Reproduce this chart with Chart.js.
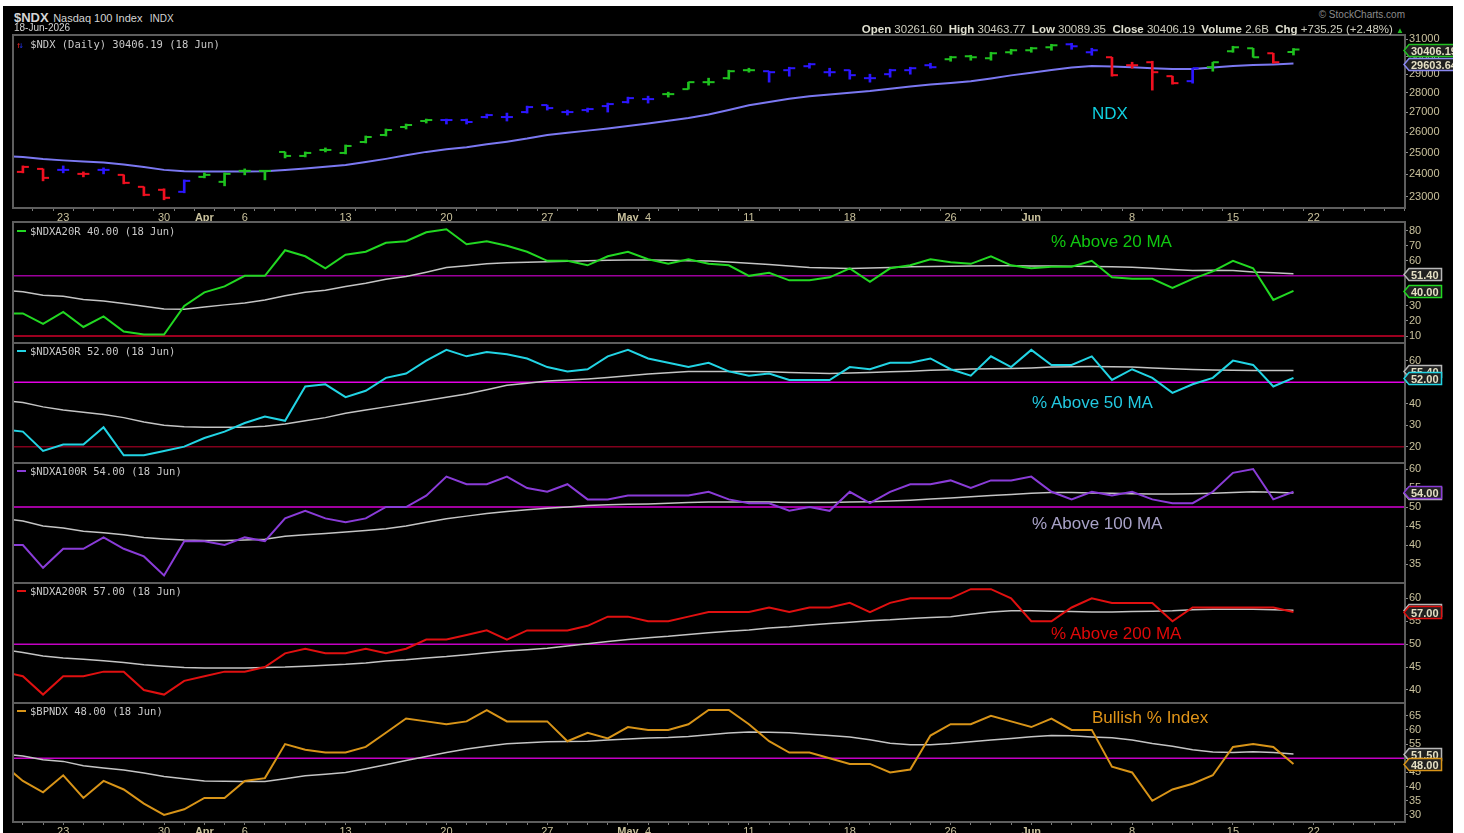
<!DOCTYPE html>
<html lang="en">
<head>
<meta charset="UTF-8">
<title>$NDX Nasdaq 100 Index</title>
<script src="https://cdn.jsdelivr.net/npm/chart.js"></script>
<style>
  html, body { margin: 0; padding: 0; background: #fff; }
  body { width: 1464px; height: 833px; overflow: hidden; position: relative; font-family: "Liberation Sans", Arial, sans-serif; }
  #stage { position: absolute; left: 3px; top: 6px; width: 1450px; height: 827px; background: #000; overflow: hidden; }
  #inner { position: absolute; left: -3px; top: -6px; width: 1464px; height: 833px; }
  #inner canvas { position: absolute; left: 0; }
  .txt { position: absolute; white-space: nowrap; line-height: 1; }
  .legend { font: 10.5px "DejaVu Sans Mono", monospace; color: #c8c8c8; }
  .legend i { display: inline-block; width: 9px; height: 2px; vertical-align: middle; margin: 0 4px 2px 0; }
  .note { font-size: 17px; }
  .hdr b { color: #e0e0d0; }
</style>
</head>
<body>
<div id="stage"><div id="inner">
  <canvas id="p1"></canvas>
  <canvas id="p2"></canvas>
  <canvas id="p3"></canvas>
  <canvas id="p4"></canvas>
  <canvas id="p5"></canvas>
  <canvas id="p6"></canvas>

  <!-- header -->
  <div class="txt" style="left:14px;top:9px;color:#d4d4d4"><b style="font-size:13px">$NDX</b> <span style="font-size:11px">Nasdaq 100 Index</span> <span style="font-size:10px">&nbsp;INDX</span></div>
  <div class="txt" style="left:14px;top:23px;color:#d4d4d4;font-size:10px">18-Jun-2026</div>
  <div class="txt" style="right:59px;top:10px;color:#8c8c8c;font-size:10px">&copy; StockCharts.com</div>
  <div class="txt hdr" style="right:60px;top:24px;color:#d0d0c0;font-size:11.5px"><b>Open</b> 30261.60 &nbsp;<b>High</b> 30463.77 &nbsp;<b>Low</b> 30089.35 &nbsp;<b>Close</b> 30406.19 &nbsp;<b>Volume</b> 2.6B &nbsp;<b>Chg</b> +735.25 (+2.48%) <span style="color:#22c022;font-size:8px">&#9650;</span></div>

  <!-- panel legends -->
  <div class="txt legend" style="left:16px;top:38px"><span style="color:#e02020;font-size:9px;letter-spacing:-3px">&#8593;</span><span style="color:#2030e0;font-size:9px">&#8595;</span> $NDX (Daily) 30406.19 (18 Jun)</div>
  <div class="txt legend" style="left:17px;top:225px"><i style="background:#22d822"></i>$NDXA20R 40.00 (18 Jun)</div>
  <div class="txt legend" style="left:17px;top:345px"><i style="background:#22d4e4"></i>$NDXA50R 52.00 (18 Jun)</div>
  <div class="txt legend" style="left:17px;top:465px"><i style="background:#8a3cd8"></i>$NDXA100R 54.00 (18 Jun)</div>
  <div class="txt legend" style="left:17px;top:585px"><i style="background:#e01010"></i>$NDXA200R 57.00 (18 Jun)</div>
  <div class="txt legend" style="left:17px;top:705px"><i style="background:#d89418"></i>$BPNDX 48.00 (18 Jun)</div>

  <!-- annotations -->
  <div class="txt note" style="left:1092px;top:105px;color:#10d0e0">NDX</div>
  <div class="txt note" style="left:1051px;top:233px;color:#10c810">% Above 20 MA</div>
  <div class="txt note" style="left:1032px;top:394px;color:#22c8e0">% Above 50 MA</div>
  <div class="txt note" style="left:1032px;top:515px;color:#a8a2c8">% Above 100 MA</div>
  <div class="txt note" style="left:1051px;top:625px;color:#e00808">% Above 200 MA</div>
  <div class="txt note" style="left:1092px;top:709px;color:#e09418">Bullish % Index</div>
</div></div>

<script>
// trading days shown (Mar 18 sits just left of the plot)
var days = ['Mar 18','Mar 19','Mar 20','Mar 23','Mar 24','Mar 25','Mar 26','Mar 27','Mar 30','Mar 31',
  'Apr 1','Apr 2','Apr 6','Apr 7','Apr 8','Apr 9','Apr 10','Apr 13','Apr 14','Apr 15','Apr 16','Apr 17',
  'Apr 20','Apr 21','Apr 22','Apr 23','Apr 24','Apr 27','Apr 28','Apr 29','Apr 30',
  'May 1','May 4','May 5','May 6','May 7','May 8','May 11','May 12','May 13','May 14','May 15',
  'May 18','May 19','May 20','May 21','May 22','May 26','May 27','May 28','May 29',
  'Jun 1','Jun 2','Jun 3','Jun 4','Jun 5','Jun 8','Jun 9','Jun 10','Jun 11','Jun 12',
  'Jun 15','Jun 16','Jun 17','Jun 18'];

// date axis labels (slot index -> text); 65 is Jun 22, after the Juneteenth holiday
var xTickIndex = [3, 8, 10, 12, 17, 22, 27, 31, 32, 37, 42, 47, 51, 56, 61, 65];
var xTickText  = ['23','30','Apr','6','13','20','27','May','4','11','18','26','Jun','8','15','22'];

// $NDX daily OHLC
var ndxOpen  = [null, 24108, 24245, 24200, 24017, 24200, 23972, 23434, 23302, 23214, 23881, 23657, 24154, 24154, 25037, 24849, 25132, 24990, 25515, 25855, 26249, 26549, 26599, 26599, 26750, 26750, 27004, 27364, 27004, 27106, 27312, 27519, 27676, 27939, 28204, 28580, 28797, 29236, 29180, 29236, 29457, 29125, 29236, 28797, 29015, 29236, 29513, 29850, 30019, 29906, 30248, 30362, 30535, 30708, 30248, 29963, 29513, 29681, 28906, 28634, 29402, 30305, 30477, 30190, 30261.60];
var ndxHigh  = [null, 24383, 24245, 24383, 24108, 24291, 23972, 23434, 23346, 23746, 24063, 24063, 24245, 24154, 25037, 25037, 25228, 25371, 25807, 26150, 26399, 26649, 26649, 26649, 26902, 26953, 27312, 27364, 27106, 27209, 27468, 27781, 27833, 28044, 28580, 28797, 29236, 29346, 29180, 29402, 29625, 29346, 29236, 29015, 29291, 29402, 29625, 30019, 30076, 30248, 30419, 30535, 30708, 30767, 30477, 29963, 29681, 29737, 28906, 29346, 29681, 30593, 30477, 30190, 30463.77];
var ndxLow   = [null, 24063, 23701, 24063, 23881, 24017, 23567, 23039, 22865, 23170, 23836, 23478, 23972, 23746, 24755, 24802, 25037, 24943, 25467, 25807, 26150, 26449, 26399, 26399, 26700, 26549, 26953, 27106, 26851, 27004, 27004, 27468, 27468, 27781, 28204, 28418, 28743, 29125, 28580, 28906, 29346, 28906, 28743, 28580, 28851, 29015, 29346, 29737, 29793, 29793, 30133, 30248, 30362, 30419, 30076, 28906, 29346, 28151, 28472, 28526, 29180, 30248, 29963, 29625, 30089.35];
var ndxClose = [null, 24337, 23836, 24200, 24017, 24200, 23612, 23082, 22952, 23701, 23972, 24017, 24154, 24154, 24849, 24990, 25132, 25323, 25758, 26101, 26349, 26599, 26599, 26499, 26851, 26750, 27261, 27209, 27004, 27158, 27416, 27728, 27676, 27939, 28580, 28580, 29180, 29236, 29125, 29346, 29569, 29125, 28961, 28797, 29236, 29346, 29402, 29963, 29963, 30190, 30362, 30477, 30650, 30593, 30362, 28961, 29513, 29125, 28526, 29346, 29681, 30535, 29963, 29681, 30406.19];
var ndxTrend = [null, 'down','down','flat','down','flat','down','down','down','flat','up','up','up','up','up','up','up','up','up','up','up','up','flat','flat','flat','flat','flat','flat','flat','flat','flat','flat','flat','up','up','up','up','up','flat','flat','flat','flat','flat','flat','flat','flat','flat','up','up','up','up','up','up','flat','flat','down','down','down','down','flat','up','up','up','down','up'];
var ndxMA = [24850, 24800, 24700, 24640, 24590, 24540, 24450, 24330, 24200, 24140, 24120, 24120, 24125, 24140, 24190, 24260, 24340, 24430, 24560, 24710, 24880, 25040, 25160, 25260, 25400, 25530, 25680, 25860, 25970, 26070, 26180, 26300, 26430, 26560, 26700, 26880, 27110, 27360, 27530, 27690, 27830, 27920, 28010, 28100, 28220, 28340, 28450, 28540, 28630, 28780, 28950, 29100, 29250, 29380, 29470, 29440, 29400, 29340, 29300, 29300, 29390, 29470, 29520, 29560, 29603.64];

// breadth indicators and their moving averages
var a20r   = [25, 25, 18, 26, 16, 23, 13, 11, 11, 30, 39, 43, 50, 50, 67, 63, 55, 64, 66, 72, 73, 79, 81, 71, 73, 70, 66, 60, 60, 57, 63, 66, 61, 58, 61, 58, 57, 50, 52, 47, 47, 49, 55, 46, 55, 57, 61, 59, 58, 63, 57, 55, 56, 56, 60, 49, 48, 48, 42, 48, 53, 60, 55, 34, 40];
var a20rMA = [40.5, 39.5, 37.1, 36.4, 34.2, 33.3, 31.6, 29.8, 28, 27.8, 29.3, 30.7, 32, 34, 36.7, 39.1, 40.4, 42.9, 45.1, 47.8, 49.6, 52.4, 55.5, 56.7, 58, 58.7, 59, 59.3, 59.7, 60, 60.4, 60.6, 60.5, 60.3, 60, 59.8, 59.2, 58.4, 57.5, 56.5, 55.6, 55.2, 54.9, 55.2, 55.6, 56, 56.2, 56.3, 56.5, 56.7, 56.7, 56.6, 56.5, 56.4, 56.2, 56, 55.7, 55, 54.2, 53.6, 53.8, 53.5, 52.5, 52, 51.4];
var a50r   = [28, 27, 18, 21, 21, 29, 16, 16, 18, 20, 24, 27, 31, 34, 32, 48, 49, 43, 46, 52, 54, 60, 65, 62, 64, 63, 61, 57, 55, 56, 62, 65, 61, 59, 57, 59, 55, 53, 54, 51, 51, 51, 57, 56, 59, 59, 61, 56, 53, 62, 57, 65, 58, 58, 62, 51, 56, 52, 45, 49, 52, 60, 58, 48, 52];
var a50rMA = [41.5, 40.5, 38.5, 37, 36, 35, 33.5, 31.5, 30, 29.3, 29, 29, 29, 29.5, 30.5, 32, 33.5, 35.5, 37, 38.5, 40, 41.5, 43, 44.5, 46.5, 48.5, 49.5, 50.5, 51, 51.5, 52.2, 53, 53.8, 54.4, 54.9, 55, 55, 55, 54.8, 54.5, 54.2, 54, 54.2, 54.5, 54.8, 55.1, 55.5, 55.8, 56.1, 56.2, 56.3, 56.6, 57, 57.2, 57.3, 57.2, 57, 56.6, 56.2, 55.9, 55.6, 55.5, 55.4, 55.4, 55.4];
var a100r   = [40, 40, 34, 39, 39, 42, 39, 37, 32, 41, 41, 40, 42, 41, 47, 49, 47, 46, 47, 50, 50, 53, 58, 56, 56, 58, 55, 54, 56, 52, 52, 53, 53, 53, 53, 54, 52, 51, 51, 49, 50, 49, 54, 51, 54, 56, 56, 57, 55, 57, 57, 58, 54, 52, 54, 53, 54, 52, 51, 51, 54, 59, 60, 52, 54];
var a100rMA = [47, 46.3, 45, 44.5, 43.6, 43.2, 42.7, 42, 41.6, 41.3, 41.2, 41.2, 41.3, 41.5, 42.3, 42.7, 43, 43.4, 43.8, 44.3, 45, 46, 46.9, 47.6, 48.3, 48.8, 49.3, 49.7, 50, 50.4, 50.6, 50.7, 50.8, 51, 51.2, 51.3, 51.3, 51.3, 51.3, 51.2, 51.2, 51.2, 51.3, 51.4, 51.6, 51.8, 52.1, 52.4, 52.7, 53, 53.3, 53.6, 53.8, 53.8, 53.7, 53.6, 53.5, 53.4, 53.4, 53.5, 53.6, 53.8, 54, 53.9, 53.7];
var a200r   = [44, 43, 39, 43, 43, 44, 44, 40, 39, 42, 43, 44, 44, 45, 48, 49, 48, 48, 49, 48, 49, 51, 51, 52, 53, 51, 53, 53, 53, 54, 56, 56, 55, 55, 56, 57, 57, 57, 58, 57, 58, 58, 59, 57, 59, 60, 60, 60, 62, 62, 60, 55, 55, 58, 60, 59, 59, 59, 55, 58, 58, 58, 58, 58, 57];
var a200rMA = [48.8, 48.2, 47.4, 47, 46.7, 46.4, 46, 45.5, 45.2, 44.9, 44.8, 44.8, 44.8, 44.9, 45, 45.2, 45.4, 45.6, 45.9, 46.3, 46.6, 47, 47.3, 47.7, 48.1, 48.5, 48.8, 49.1, 49.6, 50.1, 50.6, 51, 51.4, 51.7, 52.1, 52.5, 52.8, 53.1, 53.5, 53.8, 54.2, 54.5, 54.8, 55.1, 55.3, 55.6, 55.8, 56, 56.5, 57, 57.3, 57.3, 57.2, 57.1, 57, 57, 57.1, 57.2, 57.3, 57.5, 57.6, 57.6, 57.6, 57.5, 57.4];
var bpndx   = [48, 42, 38, 44, 36, 42, 39, 34, 30, 32, 36, 36, 42, 43, 55, 53, 52, 52, 54, 59, 64, 63, 62, 63, 67, 63, 63, 63, 56, 59, 57, 61, 60, 60, 62, 67, 67, 62, 56, 52, 52, 50, 48, 48, 45, 46, 58, 62, 62, 65, 63, 61, 64, 60, 60, 47, 45, 35, 39, 41, 44, 54, 55, 54, 48];
var bpndxMA = [51.5, 50.8, 49.5, 48.9, 47.4, 46.6, 45.9, 44.8, 43.6, 42.8, 42, 41.9, 41.8, 41.8, 42.8, 43.8, 44.4, 45, 46.3, 47.7, 49.2, 50.6, 52, 53.3, 54.2, 55.1, 55.5, 55.8, 55.9, 56, 56.4, 56.8, 57.1, 57.3, 57.7, 58.3, 58.9, 59.3, 59.2, 59, 58.5, 58, 57.5, 56.5, 55.3, 54.8, 54.8, 55.2, 55.8, 56.4, 57, 57.6, 58, 57.9, 57.5, 57.2, 56.4, 55.2, 54.2, 53, 52.2, 52, 52.3, 52, 51.5];

// axis ticks
var ndxTicks   = [23000, 24000, 25000, 26000, 27000, 28000, 29000, 30000, 31000];
var a20rTicks  = [10, 20, 30, 40, 50, 60, 70, 80];
var a50rTicks  = [20, 30, 40, 50, 60];
var a100rTicks = [35, 40, 45, 50, 55, 60];
var a200rTicks = [40, 45, 50, 55, 60];
var bpndxTicks = [30, 35, 40, 45, 50, 55, 60, 65];

// ---------------------------------------------------------------
var X_MIN = 0.51, X_MAX = 69.53;
var PAD = 8, X_AXIS_H = 14, Y_AXIS_W = 48;
var AXIS_TXT = '#c9c19c';
var FONT = '"Liberation Sans", Arial, sans-serif';
var trendColor = { up: '#1fc21f', down: '#f01020', flat: '#2c16ff' };

function labelAt(v) {
    var k = xTickIndex.indexOf(v);
    return k < 0 ? '' : xTickText[k];
}

function xy(arr) {
    return arr.map(function (v, i) { return { x: i, y: v }; }).filter(function (p) { return p.y != null; });
}

function level(v) {
    return [{ x: 0, y: v }, { x: days.length + 5, y: v }];
}

function lineSet(data, color, width) {
    return { type: 'line', data: data, borderColor: color, borderWidth: width, pointRadius: 0, tension: 0, fill: false };
}

function xAxis(show) {
    return {
        type: 'linear', min: X_MIN, max: X_MAX, display: show, offset: false,
        afterBuildTicks: function (s) {
            var t = [];
            for (var i = 1; i <= Math.floor(X_MAX); i++) t.push({ value: i });
            s.ticks = t;
        },
        // hidden axes must not take any room
        afterFit: function (s) { s.height = show ? X_AXIS_H : 0; },
        grid: { drawOnChartArea: false, tickLength: 3, color: '#7a7a7a' },
        border: { display: false },
        ticks: {
            autoSkip: false, maxRotation: 0, minRotation: 0, padding: 0, color: AXIS_TXT,
            font: function (c) {
                var bold = c.tick && /[A-Z]/.test(labelAt(c.tick.value));
                return { family: FONT, size: 11, weight: bold ? 'bold' : 'normal' };
            },
            callback: function (v) { return labelAt(v); }
        }
    };
}

function yAxis(type, min, max, ticks) {
    return {
        type: type, position: 'right', min: min, max: max,
        afterBuildTicks: function (s) { s.ticks = ticks.map(function (v) { return { value: v }; }); },
        afterFit: function (s) { s.width = Y_AXIS_W; },
        grid: { drawOnChartArea: false, tickLength: 3, color: '#8a8a8a' },
        border: { display: false },
        ticks: { autoSkip: false, color: AXIS_TXT, padding: 1, font: { family: FONT, size: 11 },
                 callback: function (v) { return String(v); } }
    };
}

// grey frame round each panel
var framePlugin = {
    id: 'frame',
    afterDraw: function (chart) {
        var a = chart.chartArea, c = chart.ctx;
        c.save();
        c.strokeStyle = '#5e5e5e';
        c.lineWidth = 2;
        c.strokeRect(a.left, a.top, a.right - a.left, a.bottom - a.top);
        c.restore();
    }
};

// last-value tags on the price axis
var tagPlugin = {
    id: 'tags',
    afterDraw: function (chart, args, opts) {
        var c = chart.ctx, ys = chart.scales.y, x0 = chart.chartArea.right - 1;
        (opts.items || []).forEach(function (t) {
            var y = Math.round(ys.getPixelForValue(t.value)) + 0.5;
            var txt = t.value.toFixed(2);
            c.save();
            c.font = 'bold 11px ' + FONT;
            var w = c.measureText(txt).width + 5;
            c.beginPath();
            c.moveTo(x0, y);
            c.lineTo(x0 + 5, y - 6);
            c.lineTo(x0 + 5 + w, y - 6);
            c.lineTo(x0 + 5 + w, y + 6);
            c.lineTo(x0 + 5, y + 6);
            c.closePath();
            c.fillStyle = '#202020';
            c.fill();
            c.strokeStyle = t.color;
            c.lineWidth = 1.5;
            c.stroke();
            c.fillStyle = '#e4dfc4';
            c.textBaseline = 'middle';
            c.fillText(txt, x0 + 7, y + 1);
            c.restore();
        });
    }
};

function makePanel(id, top, bottom, showX, yScale, datasets, tags) {
    var cv = document.getElementById(id);
    var padBottom = showX ? 0 : PAD;
    cv.width = 1464;
    cv.height = (bottom - top) + PAD + padBottom + (showX ? X_AXIS_H : 0);
    cv.style.top = (top - PAD) + 'px';
    return new Chart(cv, {
        type: 'line',
        data: { datasets: datasets },
        plugins: [framePlugin, tagPlugin],
        options: {
            responsive: false, animation: false, events: [],
            devicePixelRatio: 1,
            layout: { padding: { left: 13, right: 11, top: PAD, bottom: padBottom } },
            scales: { x: xAxis(showX), y: yScale },
            plugins: { legend: { display: false }, tooltip: { enabled: false }, tags: { items: tags } }
        }
    });
}

var last = days.length - 1;

// price panel: high-low bars, open/close ticks, moving average
var bars = days.map(function (d, i) { return i; }).filter(function (i) { return ndxHigh[i] != null; });
var barColors = bars.map(function (i) { return trendColor[ndxTrend[i]]; });
makePanel('p1', 35, 208, true, yAxis('logarithmic', 22512, 31254, ndxTicks), [
    { type: 'line', showLine: false, data: bars.map(function (i) { return { x: i, y: ndxClose[i] }; }),
      pointStyle: 'dash', pointRotation: 0, pointRadius: 6, pointBorderWidth: 2, pointBorderColor: barColors, pointBackgroundColor: barColors },
    { type: 'line', showLine: false, data: bars.map(function (i) { return { x: i, y: ndxOpen[i] }; }),
      pointStyle: 'dash', pointRotation: 180, pointRadius: 6, pointBorderWidth: 2, pointBorderColor: barColors, pointBackgroundColor: barColors },
    { type: 'bar', data: bars.map(function (i) { return { x: i, y: [ndxLow[i], ndxHigh[i]] }; }),
      backgroundColor: barColors, borderWidth: 0, barThickness: 2 },
    lineSet(xy(ndxMA), '#7b78f2', 2)
], [{ value: ndxMA[last], color: '#8a88f0' }, { value: ndxClose[last], color: '#22c022' }]);

makePanel('p2', 222, 343, false, yAxis('linear', 5.35, 85.8, a20rTicks), [
    lineSet(xy(a20r), '#22d822', 2),
    lineSet(xy(a20rMA), '#c4c4c4', 1.5),
    lineSet(level(50), '#9c009c', 1.5),
    lineSet(level(10), '#d0002a', 1.5)
], [{ value: a20rMA[last], color: '#b8b8b8' }, { value: a20r[last], color: '#22d822' }]);

makePanel('p3', 343, 463, false, yAxis('linear', 12.4, 68.2, a50rTicks), [
    lineSet(xy(a50r), '#22d4e4', 2),
    lineSet(xy(a50rMA), '#c4c4c4', 1.5),
    lineSet(level(50), '#e400e4', 1.5),
    lineSet(level(20), '#82001c', 1.5)
], [{ value: a50rMA[last], color: '#b8b8b8' }, { value: a50r[last], color: '#22d4e4' }]);

makePanel('p4', 463, 583, false, yAxis('linear', 30, 61.58, a100rTicks), [
    lineSet(xy(a100r), '#8a3cd8', 2),
    lineSet(xy(a100rMA), '#c4c4c4', 1.5),
    lineSet(level(50), '#d400d4', 1.5)
], [{ value: a100rMA[last], color: '#b8b8b8' }, { value: a100r[last], color: '#8a3cd8' }]);

makePanel('p5', 583, 703, false, yAxis('linear', 37.16, 63.34, a200rTicks), [
    lineSet(xy(a200r), '#e01010', 2),
    lineSet(xy(a200rMA), '#c4c4c4', 1.5),
    lineSet(level(50), '#c400c4', 1.5)
], [{ value: a200rMA[last], color: '#b8b8b8' }, { value: a200r[last], color: '#e01010' }]);

makePanel('p6', 703, 822, true, yAxis('linear', 27.53, 69.48, bpndxTicks), [
    lineSet(xy(bpndx), '#d89418', 2),
    lineSet(xy(bpndxMA), '#c4c4c4', 1.5),
    lineSet(level(50), '#c400c4', 1.5)
], [{ value: bpndxMA[last], color: '#b8b8b8' }, { value: bpndx[last], color: '#d89418' }]);
</script>
</body>
</html>
